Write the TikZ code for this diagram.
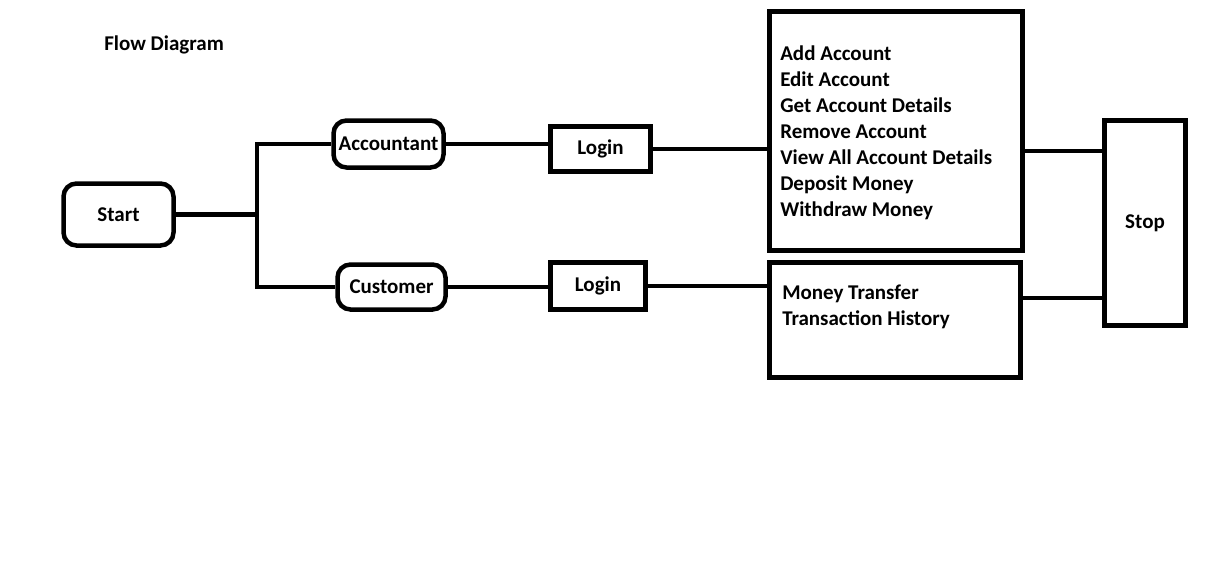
\documentclass[tikz,border=0pt]{standalone}
\usepackage{fontspec}
\setmainfont{Carlito}
\usepackage{tikz}

\begin{document}
\begin{tikzpicture}[x=1pt,y=-1pt,
        font=\fontsize{21}{26}\selectfont\bfseries,
        line width=4.5pt,line join=miter,
        roundbox/.style={draw,rounded corners=13pt,inner sep=0pt},
        plainbox/.style={draw,inner sep=0pt},
        menutext/.style={anchor=north west,inner sep=0pt,align=flush left}]

    \useasboundingbox (0,0) rectangle (1212,584);

    \node[anchor=west,inner sep=0pt] (title) at (102,45) {Flow Diagram};

    \node[roundbox,minimum width=110pt,minimum height=62pt] (start) at (118.5,214.5) {Start};
    \node[roundbox,minimum width=110pt,minimum height=47pt] (acct) at (388.5,144) {Accountant};
    \node[roundbox,minimum width=108pt,minimum height=45pt] (cust) at (391.5,287) {Customer};
    \node[plainbox,minimum width=100pt,minimum height=45pt] (login1) at (600.5,149) {Login};
    \node[plainbox,minimum width=95pt,minimum height=47pt] (login2) at (598,286) {Login};
    \node[plainbox,minimum width=253pt,minimum height=239pt] (acctbox) at (896,131) {};
    \node[menutext] (accttext) at (778,44)
        {Add Account\\Edit Account\\Get Account Details\\Remove Account\\View All Account Details\\Deposit Money\\Withdraw Money};
    \node[plainbox,minimum width=251pt,minimum height=115pt] (custbox) at (895,320) {};
    \node[menutext] (custtext) at (780,283) {Money Transfer\\Transaction History};
    \node[plainbox,minimum width=81pt,minimum height=205pt] (stop) at (1145,223) {Stop};

    \coordinate (split) at (257,214.5);

    \draw (start.east) -- (split);
    \draw (split) |- (acct.west);
    \draw (split) |- (cust.west);
    \draw (acct.east) -- (login1.west |- acct.east);
    \draw (cust.east) -- (login2.west |- cust.east);
    \draw (login1.east) -- (login1.east -| acctbox.west);
    \draw (login2.east) -- (login2.east -| custbox.west);
    \draw ([yshift=-20pt]acctbox.east) -- ([yshift=-20pt]acctbox.east -| stop.west);
    \draw ([yshift=22pt]custbox.east) -- ([yshift=22pt]custbox.east -| stop.west);
\end{tikzpicture}
\end{document}
